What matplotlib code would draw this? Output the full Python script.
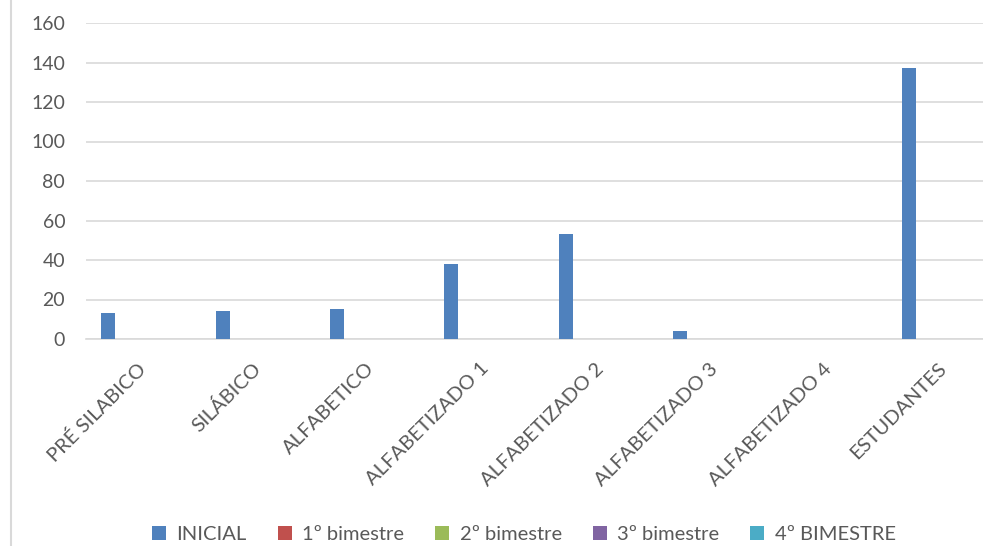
import numpy as np
import matplotlib.pyplot as plt
import matplotlib.transforms as mtransforms
from matplotlib.patches import Patch
from matplotlib.lines import Line2D

plt.rcParams['font.family'] = ['Lato', 'DejaVu Sans']

categorias = ["PRÉ SILABICO", "SILÁBICO", "ALFABETICO", "ALFABETIZADO 1",
              "ALFABETIZADO 2", "ALFABETIZADO 3", "ALFABETIZADO 4", "ESTUDANTES"]
series = ["INICIAL", "1º bimestre", "2º bimestre", "3º bimestre", "4º BIMESTRE"]
inicial = [13, 14, 15, 38, 53, 4, 0, 137]
bim1 = [0, 0, 0, 0, 0, 0, 0, 0]
bim2 = [0, 0, 0, 0, 0, 0, 0, 0]
bim3 = [0, 0, 0, 0, 0, 0, 0, 0]
bim4 = [0, 0, 0, 0, 0, 0, 0, 0]
cores = ["#4F81BD", "#C0504D", "#9BBB59", "#8064A2", "#4BACC6"]

fig = plt.figure(figsize=(9.83, 5.46), dpi=100)
# a area do grafico passa da borda direita (imagem recortada)
ax = fig.add_axes([86 / 983, 1 - 339 / 546, 915 / 983, 316 / 546])

x = np.arange(len(categorias))
slot = 0.153
largura = 0.1225
valores = [inicial, bim1, bim2, bim3, bim4]
for j, (nome, v) in enumerate(zip(series, valores)):
    ax.bar(x + (j - 2) * slot, v, width=largura, color=cores[j], linewidth=0, zorder=3)

ax.set_xlim(-0.5, len(categorias) - 0.5)
ax.set_ylim(0, 160)
ax.set_yticks(range(0, 161, 20))
ax.grid(axis='y', color='#d9d9d9', linewidth=1.2, zorder=0)
for s in ['top', 'right', 'left']:
    ax.spines[s].set_visible(False)
ax.spines['bottom'].set_color('#d9d9d9')
ax.spines['bottom'].set_linewidth(1.2)
ax.tick_params(axis='both', length=0, colors='#595959')
ax.tick_params(axis='y', pad=15, labelsize=14)
ax.set_xticks(x)
ax.set_xticklabels(categorias, rotation=45, ha='right', rotation_mode='anchor',
                   color='#595959', fontsize=14.5)
ax.tick_params(axis='x', pad=15)
desloc = mtransforms.ScaledTranslation(-6 / 100, 0, fig.dpi_scale_trans)
for lbl in ax.get_xticklabels():
    lbl.set_transform(lbl.get_transform() + desloc)

handles = [Patch(facecolor=c, edgecolor='none') for c in cores]
leg = fig.legend(handles, series, loc='center', bbox_to_anchor=(0.533, 0.021), ncol=5,
                 frameon=False, fontsize=14.5, handlelength=0.7, handleheight=0.7,
                 handletextpad=0.5, columnspacing=1.55)
for t in leg.get_texts():
    t.set_color('#595959')

fig.add_artist(Line2D([10.5 / 983, 10.5 / 983], [0, 1], color='#d9d9d9', linewidth=1.5))

fig.savefig("out.png", dpi=100)
